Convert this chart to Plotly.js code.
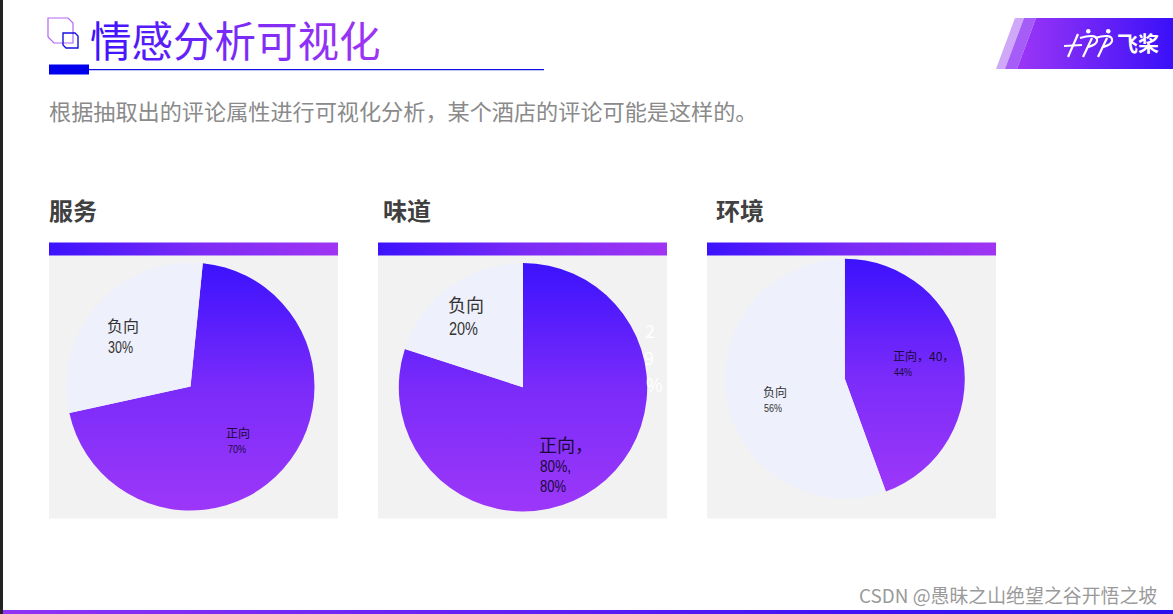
<!DOCTYPE html>
<html>
<head>
<meta charset="utf-8">
<script src="https://cdn.plot.ly/plotly-3.0.1.min.js"></script>
<style>html,body{margin:0;padding:0;background:#fff;overflow:hidden}#chart{width:1173px;height:614px}</style>
</head>
<body>
<div id="chart"></div>
<script>
// ---- data ----
var sliceNames = ['正向', '负向'];
var serviceValues = [70, 30];
var tasteValues = [80, 20];
var environmentValues = [40, 50];
var panelTitles = ['服务', '味道', '环境'];
var pageTitle = '情感分析可视化';
var pageSubtitle = '根据抽取出的评论属性进行可视化分析，某个酒店的评论可能是这样的。';
var watermark = 'CSDN @愚昧之山绝望之谷开悟之坡';
var brandName = '飞桨';
var serviceLabels = ['负向', '30%', '正向', '70%'];
var tasteLabels = ['负向', '20%', '正向，', '80%,', '80%'];
var environmentLabels = ['正向，40，', '44%', '负向', '56%'];
var strayLabels = ['2', '9', '%'];

// ---- helpers ----
var W = 1173, H = 614;
var CJK = '"Noto Sans CJK SC","Noto Sans",sans-serif';
var LATIN = '"Liberation Sans",sans-serif';
function fx(x){return x / W;}
function fy(y){return 1 - y / H;}
function P(d){ // pixel path -> paper path
  var i = 0;
  return d.replace(/-?\d+(\.\d+)?/g, function(n){
    var v = parseFloat(n), r = (i % 2 === 0) ? fx(v) : fy(v); i++;
    return r.toFixed(6);
  });
}
function rect(x0,y0,x1,y1,fill,extra){
  return Object.assign({type:'rect',xref:'paper',yref:'paper',layer:'below',x0:fx(x0),x1:fx(x1),y0:fy(y1),y1:fy(y0),
    fillcolor:fill,line:{width:0}}, extra||{});
}
function path(d,fill,lineColor,lineWidth){
  return {type:'path',xref:'paper',yref:'paper',layer:'below',path:P(d),
    fillcolor:fill||'rgba(0,0,0,0)',line:{color:lineColor||'rgba(0,0,0,0)',width:lineWidth||0}};
}
function label(text,x,y,size,color,anchor,weight){
  return {text:text,xref:'paper',yref:'paper',x:fx(x-1.5),y:fy(y-1.5),xanchor:anchor||'left',yanchor:'middle',
    showarrow:false,borderpad:0,align:'left',font:{family:CJK,size:size,color:color||'#222',weight:weight||400}};
}
var condensed = []; // [annotation index, width in px]
function num(text,x,y,size,color,width){
  var a = label(text,x+1.5,y+1.5,size,color);
  a.font.family = LATIN;
  condensed.push([ann.length,width]);
  return a;
}
function pie(values,cx,cy,r,rotation){
  return {type:'pie',values:values,labels:sliceNames,sort:false,direction:'clockwise',rotation:rotation,
    textinfo:'none',hoverinfo:'skip',
    marker:{colors:['#6a22fb','#eef0fb'],line:{width:0}},
    domain:{x:[fx(cx-r),fx(cx+r)],y:[fy(cy+r),fy(cy-r)]}};
}

// ---- traces ----
var traces = [
  pie(serviceValues,190.5,386.6,124,5.7),
  pie(tasteValues,523,387.3,124.2,0),
  pie(environmentValues,844.8,378.8,120,0)
];

// ---- shapes ----
var panelX = [49,378,707];
var shapes = [];
shapes.push(rect(0,0,3,H,'#222222'));
panelX.forEach(function(x){ shapes.push(rect(x,255.5,x+289,518.5,'#f2f2f2')); });
var gradH = [], gradLogo = [], gradBottom = [];
panelX.forEach(function(x){ gradH.push(shapes.length); shapes.push(rect(x,242.5,x+289,255.5,'#6a22fb')); });
gradBottom.push(shapes.length); shapes.push(rect(3,610,W,614,'#6a22fb'));
// header rule + icon
shapes.push(rect(49,64.5,89,74.5,'#0000ee'));
shapes.push(rect(89,69,544,70.2,'#1010e0'));
shapes.push(path('M48 18 L68 18 L73 23 L73 43 L54 43 L48 37 Z',null,'#b266f8',1.2));
shapes.push(path('M63 33 L75 33 L78 36 L78 48 L66 48 L63 45 Z',null,'#1512dd',1.4));
// logo banner
shapes.push(path('M1015 18 L1024 18 L1005 69 L996 69 Z','#cfa8f8'));
shapes.push(path('M1024 18 L1036 18 L1017 69 L1005 69 Z','#a65cf6'));
gradLogo.push(shapes.length);
shapes.push(path('M1036 18 L1173 18 L1173 69 L1017 69 Z','#6a22fb'));
// logo mark
function wl(d){return path(d,null,'#ffffff',2.2);}
shapes.push(wl('M1064 46 L1082 45'));
shapes.push(wl('M1068 57 L1078 34'));
shapes.push(wl('M1083 57 L1092 38'));
shapes.push(wl('M1080 38 C1090 35 1098 35 1097 41 C1096 45 1091 46 1088 47'));
shapes.push(wl('M1098 57 L1107 38'));
shapes.push(wl('M1095 38 C1105 35 1113 35 1112 41 C1111 45 1106 46 1103 47'));
shapes.push({type:'circle',xref:'paper',yref:'paper',layer:'below',x0:fx(1086),x1:fx(1090.5),y0:fy(33.5),y1:fy(29),fillcolor:'#fff',line:{width:0}});
shapes.push({type:'circle',xref:'paper',yref:'paper',layer:'below',x0:fx(1106),x1:fx(1110.5),y0:fy(33.5),y1:fy(29),fillcolor:'#fff',line:{width:0}});

// ---- annotations ----
var ann = [];
ann.push(label(pageTitle,90.5,40,41.5,'#6a22fb'));
ann.push(label(pageSubtitle,49.5,111.5,22.15,'#8a8a8a'));
ann.push(label(panelTitles[0],49,211,24,'#404040','left',600));
ann.push(label(panelTitles[1],383.5,211,24,'#404040','left',600));
ann.push(label(panelTitles[2],716.5,211,24,'#404040','left',600));
ann.push(label(serviceLabels[0],107,326,16,'#333333'));
ann.push(num(serviceLabels[1],107,347,16,'#333333',25));
ann.push(label(serviceLabels[2],227,434,12,'#1a0a3a'));
ann.push(num(serviceLabels[3],227,448.5,11,'#1a0a3a',18));
ann.push(label(tasteLabels[0],448,305,18,'#333333'));
ann.push(num(tasteLabels[1],448,329,18,'#333333',29));
ann.push(label(tasteLabels[2],539,445,18,'#1a0a3a'));
ann.push(num(tasteLabels[3],539,466,16,'#1a0a3a',31));
ann.push(num(tasteLabels[4],539,486,16,'#1a0a3a',26));
ann.push(label(environmentLabels[0],893,357,12,'#1a0a3a'));
ann.push(num(environmentLabels[1],893,372,11,'#1a0a3a',18));
ann.push(label(environmentLabels[2],763,393,12,'#333333'));
ann.push(num(environmentLabels[3],763,408,11,'#333333',18));
ann.push(label(strayLabels[0],651.5,331,18,'#ffffff','center'));
ann.push(label(strayLabels[1],650.5,358,18,'#ffffff','center'));
ann.push(label(strayLabels[2],655.5,386,18,'#ffffff','center'));
ann.push(label(brandName,1139,43,21,'#ffffff','center',700));
ann.push(label(watermark,1159.5,596,18.9,'#9a9a9a','right'));

var layout = {
  width:W,height:H,margin:{l:0,r:0,t:0,b:0,pad:0},
  paper_bgcolor:'#ffffff',plot_bgcolor:'#ffffff',showlegend:false,
  shapes:shapes,annotations:ann
};

Plotly.newPlot('chart',traces,layout,{staticPlot:true,displayModeBar:false,responsive:false}).then(function(gd){
  var NS='http://www.w3.org/2000/svg';
  var svg=gd.querySelector('svg.main-svg');
  var defs=svg.querySelector('defs')||svg.insertBefore(document.createElementNS(NS,'defs'),svg.firstChild);
  function grad(id,x2,y2,stops){
    var g=document.createElementNS(NS,'linearGradient');
    g.setAttribute('id',id);g.setAttribute('x1','0');g.setAttribute('y1','0');
    g.setAttribute('x2',x2);g.setAttribute('y2',y2);
    stops.forEach(function(s){
      var e=document.createElementNS(NS,'stop');
      e.setAttribute('offset',s[0]);e.setAttribute('stop-color',s[1]);g.appendChild(e);
    });
    defs.appendChild(g);
  }
  grad('gV','0','1',[[0,'#3c12fd'],[0.5,'#7a2bfa'],[0.8,'#8f33f9'],[1,'#9c37f9']]);
  grad('gH','1','0',[[0,'#3c12fd'],[0.5,'#7a2bf6'],[1,'#a035f3']]);
  grad('gL','1','0',[[0,'#9c36f6'],[1,'#3a10f8']]);
  grad('gB','1','0',[[0,'#9033f5'],[0.76,'#3c12f5'],[1,'#2a10ee']]);
  gd.querySelectorAll('.slice').forEach(function(s,i){
    if(i%2===0){var p=s.querySelector('path.surface');if(p)p.style.fill='url(#gV)';}
  });
  function shape(i){return gd.querySelector('.shapelayer path[data-index="'+i+'"]');}
  gradH.forEach(function(i){var p=shape(i);if(p)p.style.fill='url(#gH)';});
  gradLogo.forEach(function(i){var p=shape(i);if(p)p.style.fill='url(#gL)';});
  gradBottom.forEach(function(i){var p=shape(i);if(p)p.style.fill='url(#gB)';});
  var texts=gd.querySelectorAll('.annotation[data-index]');
  texts.forEach(function(a){
    var idx=+a.getAttribute('data-index'), t=a.querySelector('text.annotation-text');
    if(!t)return;
    if(idx===0)t.style.fill='url(#gH)';
    condensed.forEach(function(c){
      if(c[0]===idx){t.setAttribute('textLength',c[1]);t.setAttribute('lengthAdjust','spacingAndGlyphs');}
    });
  });
});
</script>
</body>
</html>
